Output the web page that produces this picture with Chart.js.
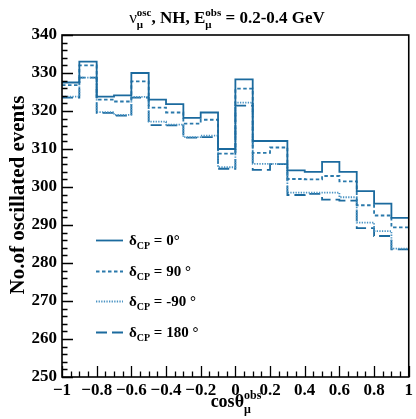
<!DOCTYPE html>
<html><head><meta charset="utf-8">
<script src="https://cdn.jsdelivr.net/npm/chart.js@4"></script>
<style>html,body{margin:0;padding:0;background:#fff;overflow:hidden}#wrap{width:416px;height:419px;position:relative}</style>
</head><body><div id="wrap"><canvas id="c" width="416" height="419"></canvas></div>
<script>
// Bin edges of cos(theta_mu^obs)
const binEdges = [-1.0,-0.9,-0.8,-0.7,-0.6,-0.5,-0.4,-0.3,-0.2,-0.1,0.0,0.1,0.2,0.3,0.4,0.5,0.6,0.7,0.8,0.9,1.0];
// Events per bin for each delta_CP
const dcp0   = [327.5,333.0,323.8,324.1,330.0,323.0,321.8,318.2,319.6,310.0,328.3,312.1,312.1,304.4,304.0,306.6,304.0,298.9,295.6,291.9];
const dcp90  = [326.8,332.0,323.0,322.5,327.8,320.9,319.6,316.7,317.7,308.8,325.9,309.0,310.4,302.1,302.0,302.9,301.5,295.2,292.5,289.4];
const dcpm90 = [323.8,328.8,319.7,319.0,323.7,317.2,316.4,313.1,313.5,305.2,322.2,306.1,306.1,298.5,298.5,298.5,297.3,290.6,288.4,283.8];
const dcp180 = [323.5,328.8,319.5,318.8,323.5,316.3,316.2,313.0,313.1,304.8,321.4,304.5,306.0,297.9,298.2,296.7,296.4,289.2,287.1,283.6];
const legendValues = ['0°','90 °','-90 °','180 °'];
const xTickValues = [-1,-0.8,-0.6,-0.4,-0.2,0,0.2,0.4,0.6,0.8,1];
const xTickLabels = ['\u22121','\u22120.8','\u22120.6','\u22120.4','\u22120.2','0','0.2','0.4','0.6','0.8','1'];
const yTickValues = [250,260,270,280,290,300,310,320,330,340];
const yTickLabels = ['250','260','270','280','290','300','310','320','330','340'];

const SERIF = '"Liberation Serif","DejaVu Serif",serif';
const styles = [
  {color:'#1b6a9e', dash:[], width:1.8},
  {color:'#2a79ab', dash:[3.5,2.5], width:1.8},
  {color:'#4a93c3', dash:[1.3,1.3], width:1.8},
  {color:'#1b6a9e', dash:[11,5], width:1.8}
];
const seriesList = [dcp0, dcp90, dcpm90, dcp180];

function toPoints(vals){
  return binEdges.map((e,i)=>({x:e, y: vals[Math.min(i, vals.length-1)]}));
}

function drawRich(ctx, parts, x, y, align){
  const font = s => 'bold ' + s + 'px ' + SERIF;
  let w = 0;
  const widths = parts.map(p=>{
    if (p.stack){
      ctx.font = font(p.size); const a = ctx.measureText(p.sup).width;
      const b = ctx.measureText(p.sub).width; return Math.max(a,b);
    }
    ctx.font = (p.normal?'':'bold ') + p.size + 'px ' + SERIF; return ctx.measureText(p.t).width;
  });
  widths.forEach(v=>w+=v);
  let cx = align==='center' ? x - w/2 : x;
  ctx.textBaseline = 'alphabetic'; ctx.textAlign = 'left';
  parts.forEach((p,i)=>{
    if (p.stack){
      ctx.font = font(p.size);
      ctx.fillText(p.sup, cx, y + p.supDy);
      ctx.fillText(p.sub, cx, y + p.subDy);
    } else {
      ctx.font = (p.normal?'':'bold ') + p.size + 'px ' + SERIF;
      ctx.fillText(p.t, cx, y + (p.dy||0));
    }
    cx += widths[i];
  });
}

const decor = {
  id:'decor',
  afterDraw(chart){
    const ctx = chart.ctx, a = chart.chartArea;
    const xs = chart.scales.x, ys = chart.scales.y;
    ctx.save();
    ctx.strokeStyle = '#000'; ctx.lineWidth = 1.3;
    ctx.beginPath();
    for (let k=0;k<=40;k++){
      const v = -1 + k*0.05; const px = Math.round(xs.getPixelForValue(v))+0.5;
      const len = (k%4===0)?11:5.5;
      ctx.moveTo(px, a.bottom); ctx.lineTo(px, a.bottom-len);
    }
    for (let k=0;k<=45;k++){
      const v = 250 + k*2; const py = Math.round(ys.getPixelForValue(v))+0.5;
      const len = (k%5===0)?11:5.5;
      ctx.moveTo(a.left, py); ctx.lineTo(a.left+len, py);
    }
    ctx.stroke();
    ctx.lineWidth = 1.6;
    ctx.strokeRect(a.left, a.top, a.right-a.left, a.bottom-a.top);
    ctx.fillStyle = '#000';
    // Title
    drawRich(ctx, [
      {t:'\u03bd', size:17, normal:true},
      {stack:true, sup:'osc', sub:'\u03bc', size:11, supDy:-7, subDy:5},
      {t:', NH, E', size:17},
      {stack:true, sup:'obs', sub:'\u03bc', size:11, supDy:-7, subDy:5},
      {t:' = 0.2-0.4 GeV', size:17}
    ], 227, 23, 'center');
    // X title
    drawRich(ctx, [
      {t:'cos\u03b8', size:18},
      {stack:true, sup:'obs', sub:'\u03bc', size:12, supDy:-8, subDy:6}
    ], 236, 407, 'center');
    // Y title
    ctx.save();
    ctx.translate(24, 195); ctx.rotate(-Math.PI/2);
    ctx.font = 'bold 21px ' + SERIF; ctx.textAlign='center'; ctx.textBaseline='alphabetic';
    ctx.fillText('No.of oscillated events', 0, 0);
    ctx.restore();
    // Legend
    const ly = [240, 271, 301, 332];
    legendValues.forEach((lab,i)=>{
      const s = styles[i];
      ctx.save();
      ctx.strokeStyle = s.color; ctx.lineWidth = s.width; ctx.setLineDash(s.dash);
      ctx.beginPath(); ctx.moveTo(96, ly[i]+0.5); ctx.lineTo(123, ly[i]+0.5); ctx.stroke();
      ctx.restore();
      ctx.fillStyle = '#000';
      drawRich(ctx, [
        {t:'\u03b4', size:15},
        {t:'CP', size:10, dy:4},
        {t:' = ' + lab, size:15}
      ], 129, ly[i]+5, 'left');
    });
    ctx.restore();
  }
};

new Chart(document.getElementById('c'), {
  type:'line',
  data:{
    datasets: seriesList.map((vals,i)=>({
      data: toPoints(vals),
      stepped: true,
      borderColor: styles[i].color,
      borderWidth: styles[i].width,
      borderDash: styles[i].dash,
      pointRadius: 0,
      fill: false,
      tension: 0
    }))
  },
  options:{
    responsive:false, animation:false, devicePixelRatio:1,
    layout:{padding:{top:35,right:5,left:0,bottom:0}},
    plugins:{legend:{display:false}, title:{display:false}, tooltip:{enabled:false}},
    scales:{
      x:{type:'linear', min:-1, max:1,
        grid:{display:false, drawTicks:false}, border:{display:false},
        afterBuildTicks(s){ s.ticks = xTickValues.map(v=>({value:v})); },
        afterFit(s){ s.height = 42; },
        ticks:{autoSkip:false, maxRotation:0, minRotation:0, padding:3, color:'#000',
          font:{family:SERIF, weight:'bold', size:17},
          callback:(v,i)=>xTickLabels[i]}
      },
      y:{type:'linear', min:250, max:340,
        grid:{display:false, drawTicks:false}, border:{display:false},
        afterBuildTicks(s){ s.ticks = yTickValues.map(v=>({value:v})); },
        afterFit(s){ s.width = 62; },
        ticks:{autoSkip:false, padding:5, color:'#000',
          font:{family:SERIF, weight:'bold', size:17},
          callback:(v,i)=>yTickLabels[i]}
      }
    }
  },
  plugins:[decor]
});
</script>
</body></html>
